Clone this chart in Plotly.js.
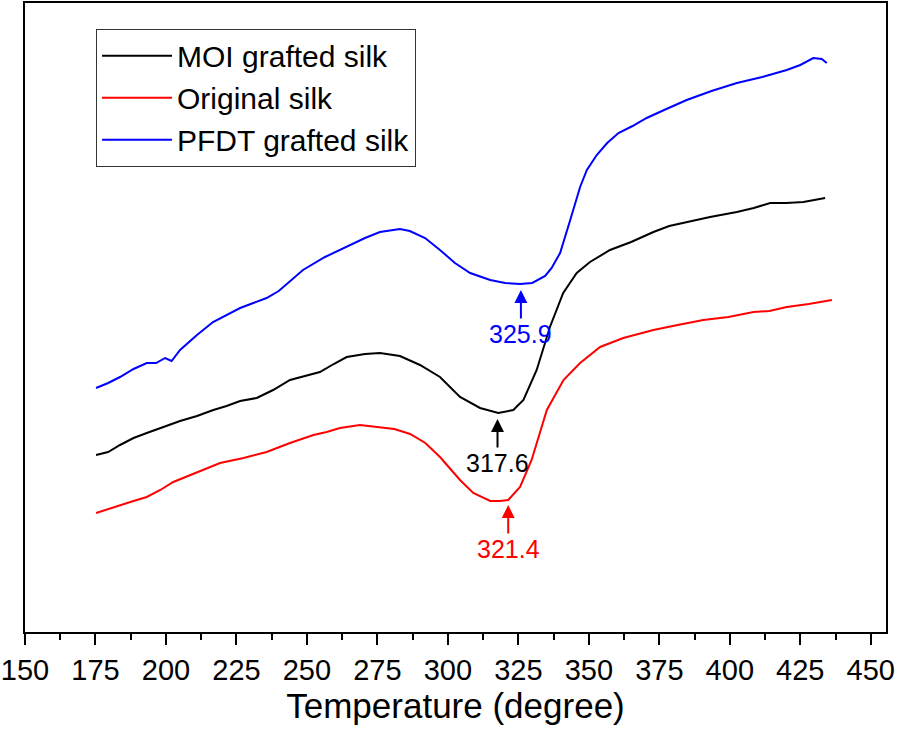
<!DOCTYPE html>
<html>
<head>
<meta charset="utf-8">
<script src="https://cdn.plot.ly/plotly-3.0.1.min.js"></script>
<style>html,body{margin:0;padding:0;background:#fff;}#chart{width:898px;height:732px;}</style>
</head>
<body>
<div id="chart"></div>
<script>
// Temperature (degree) and heat-flow signal (arbitrary units)
const moiT = [175.2,179.5,183.7,188.5,193.2,199.0,205.0,211.0,216.8,221.5,226.3,232.2,238.0,244.0,249.5,254.6,259.5,264.1,270.6,275.9,283.0,290.1,297.2,304.3,311.4,317.9,323.2,326.8,331.5,336.2,340.9,345.7,350.4,357.5,365.0,372.9,378.5,384.7,393.0,402.5,408.5,414.3,420.0,426.1,433.8];
const moiY = [17.7,18.0,18.7,19.4,19.9,20.5,21.1,21.6,22.2,22.6,23.1,23.4,24.2,25.2,25.6,26.0,26.8,27.5,27.8,27.9,27.6,26.7,25.5,23.5,22.4,21.9,22.2,23.2,26.2,30.5,33.9,35.9,37.0,38.2,39.0,40.0,40.6,41.0,41.5,42.0,42.4,42.9,42.9,43.0,43.4];

const origT = [175.2,179.5,183.7,188.5,193.2,198.0,202.6,211.0,219.2,227.5,235.7,244.0,252.3,257.0,261.7,268.8,275.9,281.0,286.6,292.0,297.2,304.3,309.0,315.0,318.5,321.4,325.6,329.7,335.1,341.0,346.9,354.0,362.2,372.9,381.5,390.6,399.5,408.4,414.0,420.2,428.0,436.2];
const origY = [11.9,12.3,12.7,13.1,13.5,14.2,15.0,16.0,16.9,17.4,18.0,18.9,19.7,20.0,20.4,20.7,20.5,20.3,19.8,18.9,17.5,15.2,13.9,13.1,13.1,13.2,14.5,17.2,22.2,25.2,26.9,28.5,29.4,30.2,30.7,31.2,31.5,32.0,32.1,32.5,32.8,33.2];

const pfdtT = [175.2,179.5,183.7,188.5,193.2,196.5,199.7,202.0,205.0,211.0,216.7,221.5,226.3,231.0,235.7,240.0,244.0,248.6,256.4,264.1,270.6,275.9,283.0,286.5,291.9,297.2,302.5,307.9,315.0,320.3,325.6,329.9,334.5,336.8,339.8,343.4,346.9,349.3,352.8,356.5,360.5,365.5,370.5,377.5,384.7,393.5,402.5,411.5,420.2,425.0,429.6,432.6,434.4];
const pfdtY = [24.4,24.9,25.5,26.3,26.9,26.9,27.4,27.1,28.2,29.7,31.0,31.7,32.4,32.9,33.4,34.1,35.1,36.2,37.5,38.5,39.4,40.0,40.3,40.1,39.4,38.2,36.9,35.9,35.2,34.9,34.8,34.9,35.6,36.4,37.9,41.2,44.5,46.2,47.7,48.9,49.9,50.6,51.4,52.3,53.2,54.1,54.9,55.5,56.2,56.7,57.4,57.3,56.9];

const seriesNames = ["MOI grafted silk", "Original silk", "PFDT grafted silk"];
const seriesColors = ["#000000", "#ff0000", "#0000ff"];

// Peak markers: temperature, signal at arrow tip, label
const peakT = [325.9, 317.6, 321.4];
const peakY = [34.2, 21.3, 12.7];
const peakLabels = ["325.9", "317.6", "321.4"];
const peakColors = ["#0000ff", "#000000", "#ff0000"];

const xTicks = [150,175,200,225,250,275,300,325,350,375,400,425,450];

const FONT = '"Liberation Sans", Arial, sans-serif';

const xs = [moiT, origT, pfdtT];
const ys = [moiY, origY, pfdtY];
const traces = xs.map((x, i) => ({
  x: x, y: ys[i], type: 'scatter', mode: 'lines', name: seriesNames[i],
  line: {color: seriesColors[i], width: 2}
}));

const annotations = peakT.map((t, i) => ({
  x: t, y: peakY[i], xref: 'x', yref: 'y',
  text: peakLabels[i], showarrow: true, ax: 0, ay: 44,
  arrowhead: 2, arrowsize: 1.3, arrowwidth: 2, arrowcolor: peakColors[i],
  standoff: 0, startstandoff: 0,
  font: {family: FONT, size: 25, color: peakColors[i]}
}));

const layout = {
  width: 898, height: 732,
  margin: {l: 25, r: 12, t: 3, b: 100},
  paper_bgcolor: '#fff', plot_bgcolor: '#fff',
  font: {family: FONT, color: '#000'},
  showlegend: true,
  legend: {
    x: 0.0825, y: 0.959, xanchor: 'left', yanchor: 'top',
    bgcolor: '#fff', bordercolor: '#333', borderwidth: 1,
    font: {family: FONT, size: 30, color: '#000'},
    itemwidth: 70, tracegroupgap: 0
  },
  xaxis: {
    range: [150, 455.4], tickvals: xTicks, ticktext: xTicks.map(String),
    showline: true, linewidth: 2, linecolor: '#000', mirror: true,
    ticks: 'outside', ticklen: 11, tickwidth: 2, tickcolor: '#000',
    minor: {dtick: 12.5, tick0: 150, ticks: 'outside', ticklen: 6, tickwidth: 2, tickcolor: '#000', showgrid: false},
    showgrid: false, zeroline: false, ticklabeloverflow: 'allow',
    tickfont: {family: FONT, size: 29, color: '#000'},
    title: {text: 'Temperature (degree)', font: {family: FONT, size: 35, color: '#000'}, standoff: 9}
  },
  yaxis: {
    range: [0, 62.9], showticklabels: false, ticks: '',
    showline: true, linewidth: 2, linecolor: '#000', mirror: true,
    showgrid: false, zeroline: false
  },
  annotations: annotations
};

Plotly.newPlot('chart', traces, layout, {displayModeBar: false, staticPlot: true});
</script>
</body>
</html>
